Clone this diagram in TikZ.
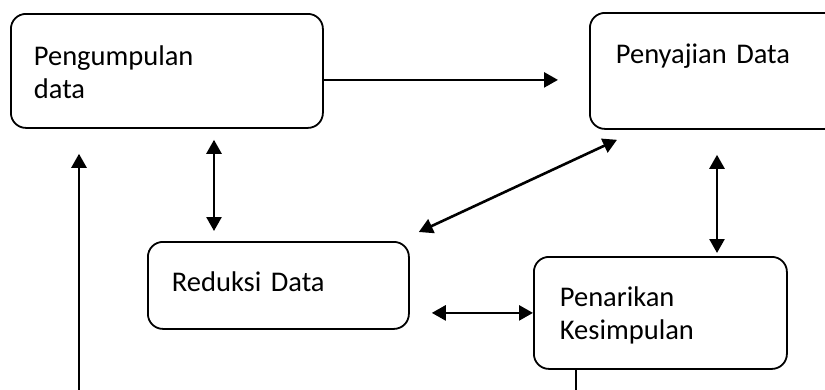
\documentclass[tikz,border=0pt]{standalone}
\usepackage{fontspec}
\setmainfont{Carlito}
\usetikzlibrary{arrows.meta}

\begin{document}
\begin{tikzpicture}[x=1pt, y=-1pt,
        box/.style={draw, line width=1.8pt, rounded corners=15pt, anchor=north west,
                    align=left, inner sep=0pt, font=\fontsize{28.5}{33}\selectfont},
        ln/.style={line width=2.6pt},
        arr/.style={ln, -{Triangle[length=14pt, width=15pt]}},
        darr/.style={ln, {Triangle[length=14pt, width=15pt]}-{Triangle[length=14pt, width=15pt]}}]
      \clip (0,0) rectangle (825,389);
      \node[box, inner xsep=23pt, text width=266pt, text height=52pt, text depth=62pt] (kumpul) at (10,13) {Pengumpulan\\data};
      \node[box, inner xsep=26pt, text width=198pt, text height=51pt, text depth=65pt] (sajian) at (589,12) {Penyajian Data};
      \node[box, inner xsep=24pt, text width=213pt, text height=50pt, text depth=37pt] (reduksi) at (147,241) {Reduksi Data};
      \node[box, inner xsep=26pt, text width=201pt, text height=50pt, text depth=62pt] (simpulan) at (533,256) {Penarikan\\Kesimpulan};
      \coordinate (bawahkiri) at (79,395);
      \coordinate (bawahkanan) at (576,395);
      \draw[arr, shorten >=31pt] ([yshift=-9pt]kumpul.east) -- ([yshift=-9pt]kumpul.east -| sajian.west);
      \draw[darr, shorten <=11pt, shorten >=10pt] ([xshift=67pt]reduksi.north west |- kumpul.south) -- ([xshift=67pt]reduksi.north west);
      \draw[arr, shorten >=25pt] (bawahkiri) -- (bawahkiri |- kumpul.south);
      \draw[darr] ([shift={(28,10)}]sajian.south west) -- ([shift={(9,-9)}]reduksi.north east);
      \draw[darr, shorten <=25pt, shorten >=3pt] ([xshift=184pt]simpulan.north west |- sajian.south) -- ([xshift=184pt]simpulan.north west);
      \draw[darr, shorten <=22pt] (simpulan.west -| reduksi.east) -- (simpulan.west);
      \draw[ln] ([xshift=43pt]simpulan.south west) -- (bawahkanan);
    \end{tikzpicture}
\end{document}
